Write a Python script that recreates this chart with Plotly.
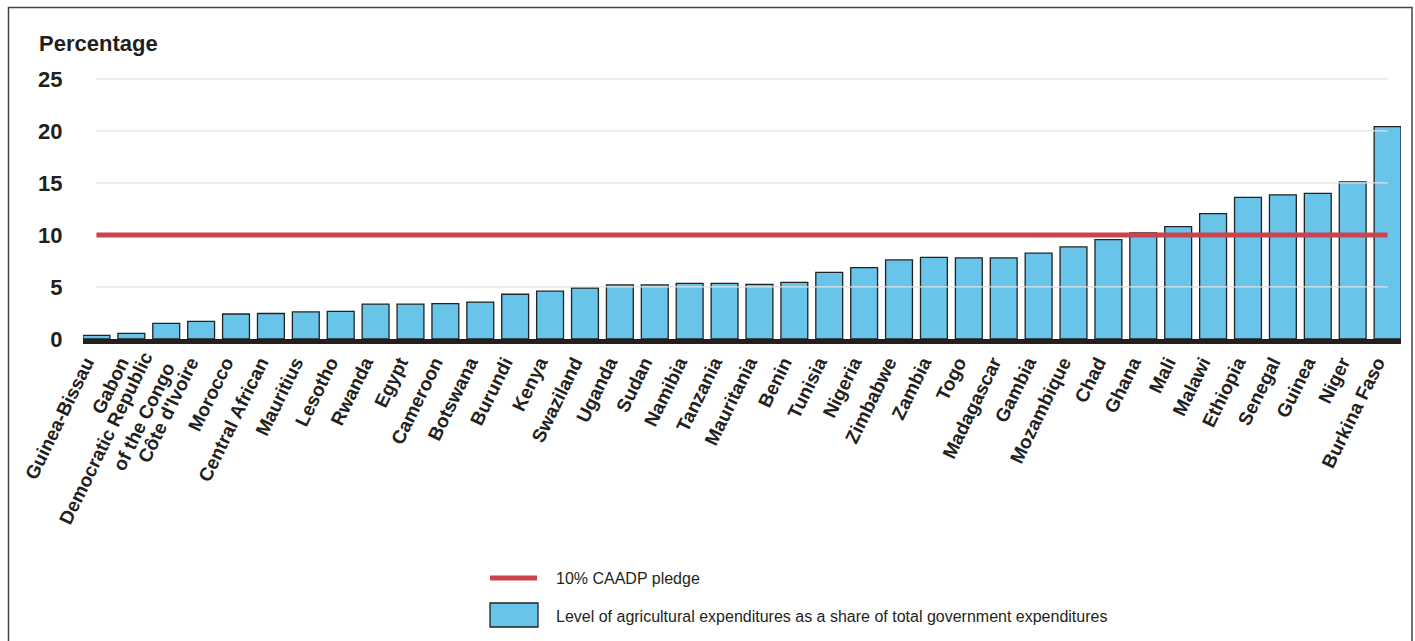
import plotly.graph_objects as go

categories = [
    "Guinea-Bissau", "Gabon", "Democratic Republic<br>of the Congo", "Côte d'Ivoire",
    "Morocco", "Central African", "Mauritius", "Lesotho", "Rwanda", "Egypt",
    "Cameroon", "Botswana", "Burundi", "Kenya", "Swaziland", "Uganda", "Sudan",
    "Namibia", "Tanzania", "Mauritania", "Benin", "Tunisia", "Nigeria", "Zimbabwe",
    "Zambia", "Togo", "Madagascar", "Gambia", "Mozambique", "Chad", "Ghana",
    "Mali", "Malawi", "Ethiopia", "Senegal", "Guinea", "Niger", "Burkina Faso",
]
values = [
    0.35, 0.55, 1.5, 1.7, 2.4, 2.45, 2.6, 2.65, 3.35, 3.35,
    3.4, 3.55, 4.3, 4.6, 4.9, 5.2, 5.2, 5.35, 5.35, 5.25,
    5.45, 6.4, 6.85, 7.6, 7.85, 7.8, 7.8, 8.25, 8.85, 9.55,
    10.2, 10.8, 12.05, 13.6, 13.85, 14.0, 15.1, 20.4,
]
pledge = 10
y_ticks = [0, 5, 10, 15, 20, 25]

W, H = 1415, 641
ML = 83
MR = 1415 - 1401
MT = 58
MB = H - 339
PW = W - ML - MR
PH = H - MT - MB

def px_x(p):
    return (p - ML) / PW

def px_y(p):
    return (MT + PH - p) / PH

BLUE = "#69C4EA"
RED = "#C8444F"
GRID = "#E2E2E2"
INK = "#231F20"
FONT = "Liberation Sans, Arial, Helvetica, sans-serif"

gap = 0.23
n = len(categories)
label_shift = -0.3

fig = go.Figure()
fig.add_trace(go.Bar(
    x=list(range(n)), y=values,
    marker=dict(color=BLUE, line=dict(color="#222222", width=1.3)),
    showlegend=False, hoverinfo="y",
))

gx, gy = [], []
for t in y_ticks[1:]:
    gx += [0, n - 1, None]
    gy += [t, t, None]
fig.add_trace(go.Scatter(x=gx, y=gy, mode="lines",
                         line=dict(color=GRID, width=1.2),
                         showlegend=False, hoverinfo="skip"))

fig.add_trace(go.Scatter(x=[0, n - 1], y=[pledge, pledge], mode="lines",
                         line=dict(color=RED, width=5),
                         showlegend=False, hoverinfo="skip"))

half = (1 - gap) / 2
fig.update_layout(
    width=W, height=H,
    margin=dict(l=ML, r=MR, t=MT, b=MB, pad=0),
    paper_bgcolor="white", plot_bgcolor="white",
    bargap=gap,
    font=dict(family=FONT, color=INK),
    xaxis=dict(
        range=[-half, n - 1 + half],
        tickmode="array", tickvals=[i + label_shift for i in range(n)],
        ticktext=categories,
        tickangle=-64,
        tickfont=dict(size=19, family=FONT, weight="bold", color=INK),
        showgrid=False, zeroline=False,
        showline=True, linecolor=INK, linewidth=5,
        ticks="", fixedrange=True,
    ),
    yaxis=dict(
        range=[0, 27],
        tickmode="array", tickvals=y_ticks,
        tickfont=dict(size=22, family=FONT, weight="bold", color=INK),
        showgrid=False, zeroline=False, showline=False,
        ticks="outside", ticklen=15, tickcolor="rgba(0,0,0,0)",
        fixedrange=True,
    ),
    annotations=[
        dict(text="<b>Percentage</b>", xref="paper", yref="paper",
             x=px_x(37), y=px_y(43), xanchor="left", yanchor="middle",
             showarrow=False, font=dict(size=22, family=FONT, color=INK)),
        dict(text="10% CAADP pledge", xref="paper", yref="paper",
             x=px_x(554), y=px_y(578), xanchor="left", yanchor="middle",
             showarrow=False, font=dict(size=16, family=FONT, color=INK)),
        dict(text="Level of agricultural expenditures as a share of total government expenditures",
             xref="paper", yref="paper",
             x=px_x(554), y=px_y(616), xanchor="left", yanchor="middle",
             showarrow=False, font=dict(size=16, family=FONT, color=INK)),
    ],
    shapes=[
        dict(type="rect", xref="paper", yref="paper",
             x0=px_x(8.5), x1=px_x(1412), y0=px_y(680), y1=px_y(7.5),
             line=dict(color="#444444", width=1.5), fillcolor="rgba(0,0,0,0)"),
        dict(type="line", xref="paper", yref="paper",
             x0=px_x(490), x1=px_x(537), y0=px_y(578), y1=px_y(578),
             line=dict(color=RED, width=5)),
        dict(type="rect", xref="paper", yref="paper",
             x0=px_x(490), x1=px_x(538), y0=px_y(627), y1=px_y(603),
             line=dict(color="#222222", width=1.3), fillcolor=BLUE),
    ],
)

fig.write_html(
    "out.html",
    config={"displayModeBar": False},
    post_script="document.body.style.margin='0';document.body.style.overflow='hidden';",
)
